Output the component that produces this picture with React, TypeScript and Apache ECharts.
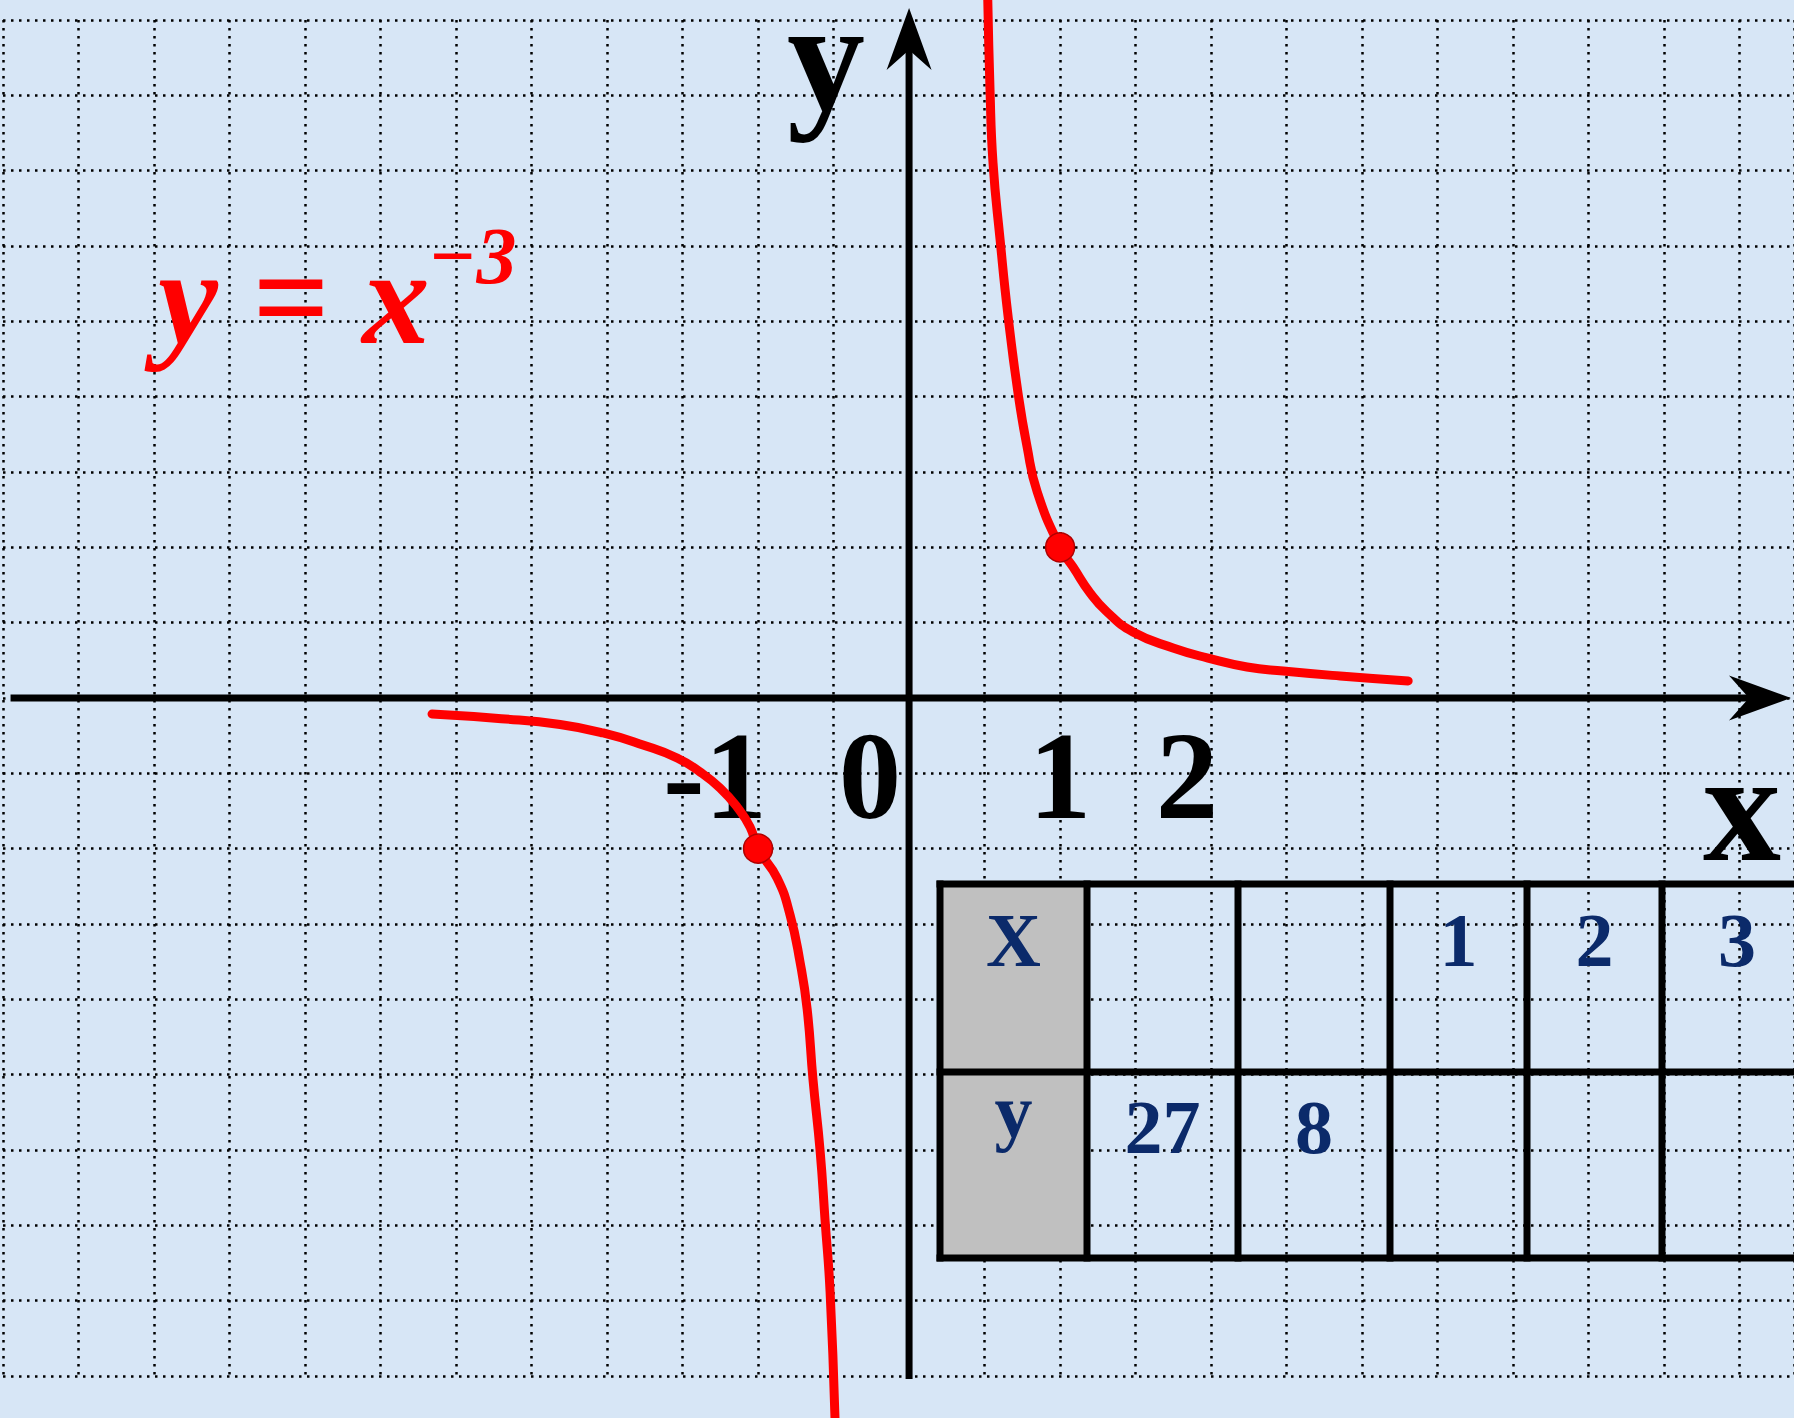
import React, { useEffect, useRef } from "react";
import * as echarts from "echarts";

// ---- data ----
const rightBranch: [number, number][] = [
  [0.52, 4.7], [0.536, 4.04], [0.556, 3.55], [0.603, 3.04], [0.656, 2.53],
  [0.722, 2.02], [0.781, 1.67], [0.848, 1.37], [1, 1], [1.086, 0.869],
  [1.199, 0.697], [1.311, 0.571], [1.483, 0.438], [1.748, 0.332], [1.98, 0.265],
  [2.238, 0.206], [2.477, 0.179], [2.854, 0.146], [3.305, 0.113],
];
const leftBranch: [number, number][] = [
  [-3.159, -0.106], [-2.7, -0.137], [-2.311, -0.176], [-2.026, -0.232],
  [-1.762, -0.312], [-1.536, -0.398], [-1.384, -0.491], [-1.252, -0.597],
  [-1.139, -0.723], [-1.053, -0.856], [-1, -1],
  [-0.874, -1.195], [-0.788, -1.44], [-0.722, -1.752], [-0.675, -2.064],
  [-0.636, -2.535], [-0.589, -3.007], [-0.556, -3.471], [-0.523, -3.942],
  [-0.49, -4.8],
];
const markedPoints: [number, number][] = [[1, 1], [-1, -1]];
const tickValues = [-1, 0, 1, 2];
const tickLabels = ["-1", "0", "1", "2"];
const yAxisShaft: [number, number][] = [[0, -4.52], [0, 4.5]];
const xAxisShaft: [number, number][] = [[-5.95, 0], [5.75, 0]];
const yArrowTip: [number, number] = [0, 4.58];
const xArrowTip: [number, number] = [5.84, 0];
const formulaMain = "y = x";
const formulaExp = "\u22123";
const axisNameX = "x";
const axisNameY = "y";
const tableRowHeads = ["X", "y"];
const tableXRow = ["", "", "1", "2", "3"];
const tableYRow = ["27", "8", "", "", ""];

// ---- layout / style constants ----
const W = 1794;
const H = 1418;
const SERIF = "Liberation Serif, Times New Roman, serif";
const NAVY = "#0b2a6a";
const tickOffsetsX = [-43, -39, 0, -24];
const tableCols = [940, 1087, 1238, 1390, 1527, 1662, 1812];
const tableRows = [884, 1072, 1258];

function txt(text: string, x: number, y: number, font: string, fill: string, align: string, lineHeight: number, z = 8) {
  return {
    type: "text",
    z,
    x,
    y,
    style: {
      text,
      font,
      fill,
      lineHeight,
      align,
      verticalAlign: "middle",
      textAlign: align,
      textVerticalAlign: "middle",
    },
  };
}

function buildTable(): any[] {
  const els: any[] = [];
  const lw = 7;
  els.push({
    type: "rect",
    z: 10,
    shape: { x: tableCols[0], y: tableRows[0], width: tableCols[1] - tableCols[0], height: tableRows[2] - tableRows[0] },
    style: { fill: "#c0c0c0" },
  });
  tableRows.forEach((y) => {
    els.push({
      type: "line",
      z: 11,
      shape: { x1: tableCols[0] - lw / 2, y1: y, x2: W + 10, y2: y },
      style: { stroke: "#000", lineWidth: lw },
    });
  });
  tableCols.forEach((x) => {
    els.push({
      type: "line",
      z: 11,
      shape: { x1: x, y1: tableRows[0] - lw / 2, x2: x, y2: tableRows[2] + lw / 2 },
      style: { stroke: "#000", lineWidth: lw },
    });
  });
  const font = `bold 76px ${SERIF}`;
  const headCx = (tableCols[0] + tableCols[1]) / 2;
  els.push(txt(tableRowHeads[0], headCx, 940, font, NAVY, "center", 70, 12));
  els.push(txt(tableRowHeads[1], headCx, 1111, font, NAVY, "center", 70, 12));
  tableXRow.forEach((t, i) => {
    if (!t) return;
    const cx = (tableCols[i + 1] + tableCols[i + 2]) / 2;
    els.push(txt(t, cx, 940, font, NAVY, "center", 70, 12));
  });
  tableYRow.forEach((t, i) => {
    if (!t) return;
    const cx = (tableCols[i + 1] + tableCols[i + 2]) / 2;
    els.push(txt(t, cx, 1127, font, NAVY, "center", 70, 12));
  });
  return els;
}

export default function App() {
  const ref = useRef<HTMLDivElement>(null);
  useEffect(() => {
    if (!ref.current) return;
    const chart = echarts.init(ref.current, null, { renderer: "svg" });
    const dotted = { color: "#000", width: 2.5, type: [2.5, 5.5] as any };
    const curveStyle = { color: "#ff0000", width: 9, cap: "round" as any, join: "round" as any };
    const option: any = {
      animation: false,
      backgroundColor: "#d7e6f6",
      grid: { left: 3, right: 0, top: 20, bottom: 42, containLabel: false },
      xAxis: {
        type: "value",
        min: -6,
        max: 5.86,
        interval: 0.5,
        axisLine: { show: false },
        axisTick: { show: false },
        axisLabel: { show: false },
        splitLine: { show: true, lineStyle: dotted },
      },
      yAxis: {
        type: "value",
        min: -4.5,
        max: 4.5,
        interval: 0.5,
        axisLine: { show: false },
        axisTick: { show: false },
        axisLabel: { show: false },
        splitLine: { show: true, lineStyle: dotted },
      },
      series: [
        {
          name: "ticks",
          type: "scatter",
          z: 2,
          symbol: "circle",
          symbolSize: 1,
          itemStyle: { color: "rgba(0,0,0,0)", opacity: 1 },
          data: tickValues.map((v, i) => ({
            value: [v, 0],
            label: {
              show: true,
              position: "inside",
              offset: [tickOffsetsX[i], 78],
              formatter: tickLabels[i],
              fontFamily: SERIF,
              fontWeight: "bold",
              fontSize: 125,
              lineHeight: 100,
              color: "#000",
              opacity: 1,
              textBorderWidth: 0,
            },
          })),
          silent: true,
        },
        {
          name: "yAxisLine",
          type: "line",
          z: 3,
          clip: false,
          symbol: "none",
          data: yAxisShaft,
          lineStyle: { color: "#000", width: 7 },
          silent: true,
        },
        {
          name: "xAxisLine",
          type: "line",
          z: 3,
          clip: false,
          symbol: "none",
          data: xAxisShaft,
          lineStyle: { color: "#000", width: 7 },
          silent: true,
        },
        {
          name: "arrows",
          type: "scatter",
          z: 3,
          clip: false,
          itemStyle: { color: "#000", opacity: 1 },
          data: [
            {
              value: yArrowTip,
              symbol: "path://M22.5,0 L45,62 L22.5,42 L0,62 Z",
              symbolSize: [45, 62],
              symbolOffset: [0, 31],
            },
            {
              value: xArrowTip,
              symbol: "path://M62,22.5 L0,45 L20,22.5 L0,0 Z",
              symbolSize: [62, 45],
              symbolOffset: [-31, 0],
            },
          ],
          silent: true,
        },
        {
          name: "right",
          type: "line",
          z: 4,
          clip: false,
          smooth: 0.5,
          symbol: "none",
          data: rightBranch,
          lineStyle: curveStyle,
          silent: true,
        },
        {
          name: "left",
          type: "line",
          z: 4,
          clip: false,
          smooth: 0.5,
          symbol: "none",
          data: leftBranch,
          lineStyle: curveStyle,
          silent: true,
        },
        {
          name: "points",
          type: "scatter",
          z: 5,
          clip: false,
          symbol: "circle",
          symbolSize: 29,
          itemStyle: { color: "#ff0000", borderColor: "#b00000", borderWidth: 1.5, opacity: 1 },
          data: markedPoints,
          silent: true,
        },
      ],
      graphic: [
        txt(formulaMain, 158, 297, `italic bold 135px ${SERIF}`, "#ff0000", "left", 110),
        txt(formulaExp, 428, 256, `italic bold 80px ${SERIF}`, "#ff0000", "left", 70),
        txt(axisNameY, 826, 57, `bold 156px ${SERIF}`, "#000", "center", 100),
        txt(axisNameX, 1742, 807, `bold 156px ${SERIF}`, "#000", "center", 100),
        ...buildTable(),
      ],
    };
    chart.setOption(option);
    return () => chart.dispose();
  }, []);
  return (
    <div
      ref={ref}
      style={{ position: "fixed", left: 0, top: 0, width: W, height: H }}
    />
  );
}
